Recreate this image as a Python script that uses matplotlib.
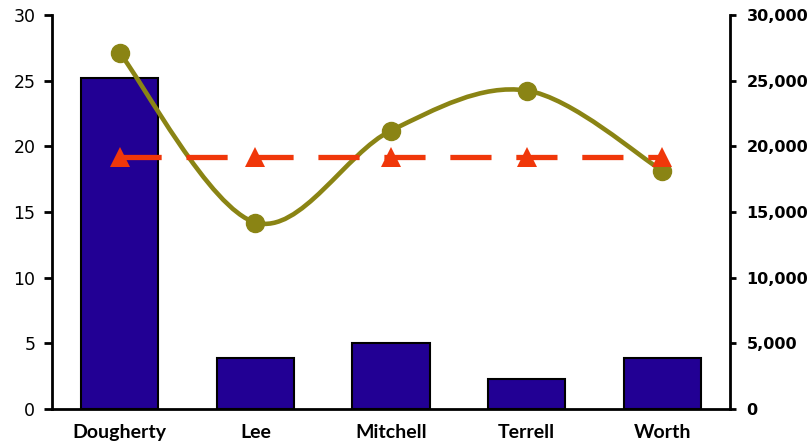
import matplotlib
matplotlib.use("Agg")
import matplotlib.pyplot as plt
from matplotlib.path import Path
from matplotlib.patches import PathPatch
from matplotlib.ticker import FuncFormatter
import numpy as np

categories = ["Dougherty", "Lee", "Mitchell", "Terrell", "Worth"]
bar_values = [25.2, 3.85, 5.05, 2.3, 3.85]
line_values = [27100, 14200, 21200, 24250, 18150]
ref_values = [19200, 19200, 19200, 19200, 19200]
left_ticks = [0, 5, 10, 15, 20, 25, 30]
right_ticks = [0, 5000, 10000, 15000, 20000, 25000, 30000]

BAR_C = "#220094"
OLIVE = "#8A8414"
RED = "#F0370A"

fig = plt.figure(figsize=(8.11, 4.44), dpi=100)
ax = fig.add_axes([52/811, 35/444, (730-52)/811, (409-15)/444])
x = np.arange(len(categories))
ax.bar(x, bar_values, width=0.57, color=BAR_C, edgecolor="black", linewidth=1.5, zorder=2)
ax.set_xlim(-0.5, len(categories)-0.5)
ax.set_ylim(0, 30)
ax.set_yticks(left_ticks)
ax.set_xticks(x)
ax.set_xticklabels(categories, fontfamily="Lato", fontweight="bold", fontsize=14)
ax.tick_params(axis="x", length=0, pad=11)
ax.tick_params(axis="y", length=6, width=2, direction="out", labelsize=12.5, pad=6)
for lab in ax.get_yticklabels():
    lab.set_fontfamily("DejaVu Sans")
for s in ["top", "right"]:
    ax.spines[s].set_visible(False)
for s in ["left", "bottom"]:
    ax.spines[s].set_linewidth(2)

ax2 = ax.twinx()
ax2.set_ylim(0, 30000)
ax2.set_yticks(right_ticks)
ax2.yaxis.set_major_formatter(FuncFormatter(lambda v, p: f"{int(v):,}"))
ax2.tick_params(axis="y", length=4, width=2, direction="out", labelsize=11.5, pad=8)
for lab in ax2.get_yticklabels():
    lab.set_fontweight("bold")
for s in ["top", "left", "bottom"]:
    ax2.spines[s].set_visible(False)
ax2.spines["right"].set_linewidth(2)

# smoothed line (Catmull-Rom style Bezier, like spreadsheet smoothing)
xs = list(x.astype(float))
ys = list(line_values)
n = len(xs)
verts = [(xs[0], ys[0])]
codes = [Path.MOVETO]
for i in range(n-1):
    p0 = (xs[max(i-1, 0)], ys[max(i-1, 0)])
    p1 = (xs[i], ys[i])
    p2 = (xs[i+1], ys[i+1])
    p3 = (xs[min(i+2, n-1)], ys[min(i+2, n-1)])
    c1 = (p1[0] + (p2[0]-p0[0])/6, p1[1] + (p2[1]-p0[1])/6)
    c2 = (p2[0] - (p3[0]-p1[0])/6, p2[1] - (p3[1]-p1[1])/6)
    verts += [c1, c2, p2]
    codes += [Path.CURVE4]*3
ax2.add_patch(PathPatch(Path(verts, codes), facecolor="none", edgecolor=OLIVE, linewidth=3.3, zorder=3))
ax2.plot(x, line_values, linestyle="none", marker="o", markersize=13, color=OLIVE, zorder=4)

ax2.plot(x, ref_values, color=RED, linewidth=3.8, dashes=(7.8, 4.7), marker="^", markersize=15,
         markeredgewidth=0, zorder=5)

fig.savefig("out.png", dpi=100)
